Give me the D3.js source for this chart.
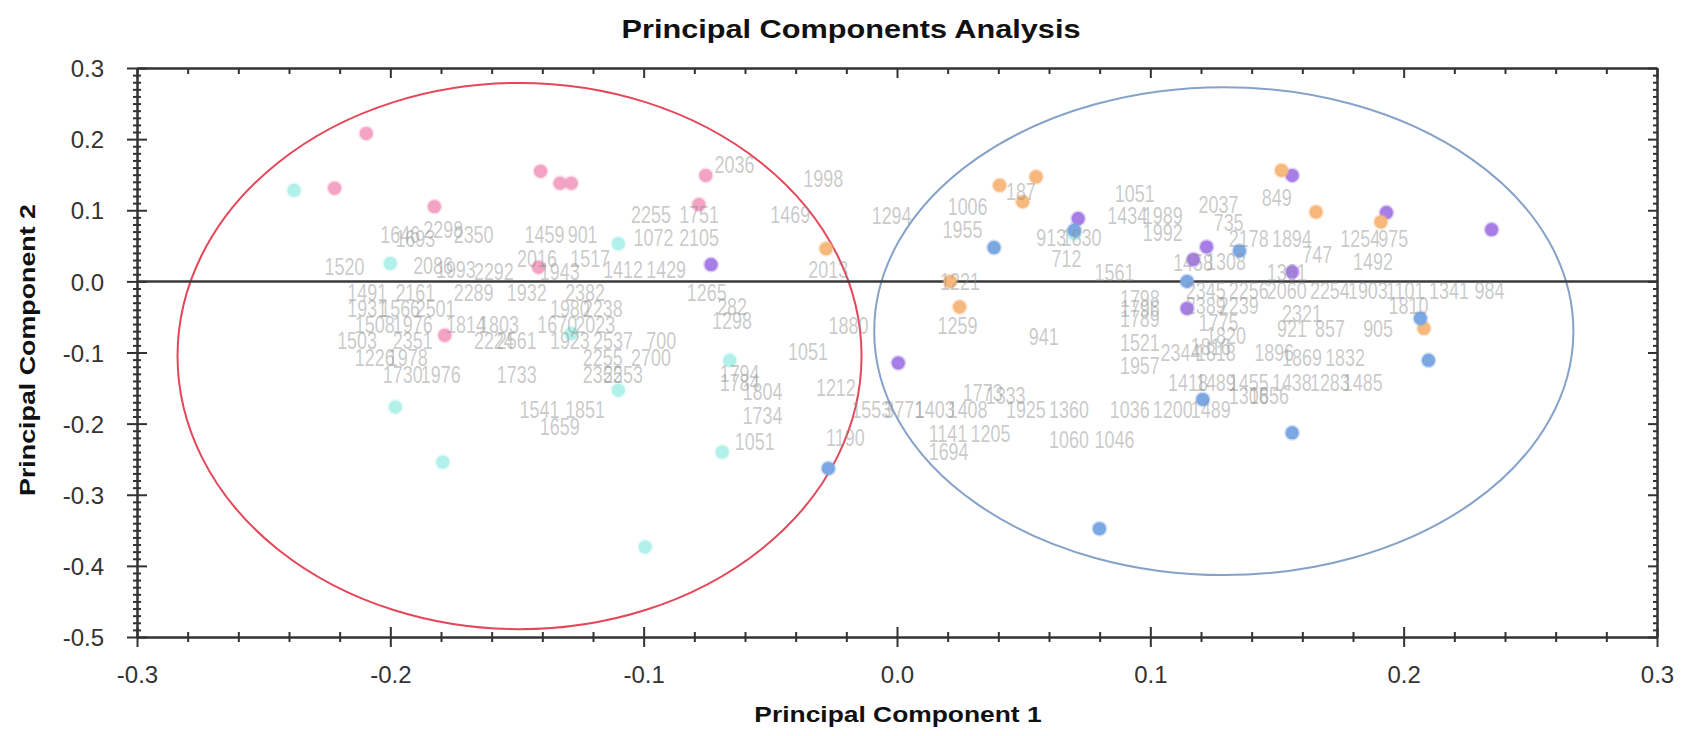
<!DOCTYPE html>
<html>
<head>
<meta charset="utf-8">
<script src="https://cdn.jsdelivr.net/npm/d3@7"></script>
<style>
  html, body { margin: 0; padding: 0; background: #fff; }
  svg { display: block; }
</style>
</head>
<body>
<svg id="chart" width="1687" height="736"></svg>
<script>
// ---------- DATA ----------
const xTickValues = [-0.3, -0.2, -0.1, 0.0, 0.1, 0.2, 0.3];
const xTickLabels = ["-0.3", "-0.2", "-0.1", "0.0", "0.1", "0.2", "0.3"];
const yTickValues = [-0.5, -0.4, -0.3, -0.2, -0.1, 0.0, 0.1, 0.2, 0.3];
const yTickLabels = ["-0.5", "-0.4", "-0.3", "-0.2", "-0.1", "0.0", "0.1", "0.2", "0.3"];

// coloured groups: [PC1, PC2]
const pinkPoints = [[-0.222,0.131],[-0.2095,0.208],[-0.1826,0.105],[-0.1407,0.155],[-0.133,0.138],[-0.1286,0.138],[-0.0755,0.149],[-0.0782,0.108],[-0.1415,0.02],[-0.1785,-0.0758]];
const cyanPoints = [[-0.238,0.128],[-0.2,0.025],[-0.110,0.053],[-0.1286,-0.0734],[-0.198,-0.1766],[-0.1793,-0.254],[-0.110,-0.153],[-0.066,-0.111],[-0.069,-0.24],[-0.0994,-0.3735],[0.070,0.067]];
const purplePoints = [[-0.0734,0.0236],[0.0005,-0.1148],[0.0715,0.0883],[0.156,0.149],[0.1932,0.0967],[0.2347,0.0728],[0.1222,0.0484],[0.117,0.0307],[0.156,0.0133],[0.1145,-0.038]];
const orangePoints = [[-0.028,0.046],[0.0405,0.135],[0.0549,0.147],[0.0496,0.112],[0.021,0.0],[0.0247,-0.036],[0.1518,0.156],[0.1654,0.0976],[0.191,0.0836],[0.208,-0.066]];
const bluePoints = [[0.0383,0.0475],[0.070,0.072],[0.1352,0.0428],[0.1145,0.0],[-0.0271,-0.263],[0.0799,-0.3477],[0.2066,-0.052],[0.2098,-0.111],[0.1207,-0.166],[0.156,-0.213]];

// sample labels: [text, PC1, PC2]
const sampleLabels = [
  ["2036",-0.072,0.164],["1998",-0.037,0.144],["1469",-0.050,0.094],["2255",-0.105,0.094],["1751",-0.086,0.094],
  ["1072",-0.104,0.061],["2105",-0.086,0.061],["1646",-0.204,0.066],["1693",-0.198,0.060],["2298",-0.187,0.072],
  ["2350",-0.175,0.066],["1459",-0.147,0.066],["901",-0.130,0.066],["2016",-0.150,0.032],["1517",-0.129,0.032],
  ["1520",-0.226,0.020],["2086",-0.191,0.022],["1993",-0.182,0.017],["2292",-0.167,0.014],["1943",-0.141,0.014],
  ["1412",-0.116,0.017],["1429",-0.099,0.017],["2013",-0.035,0.016],["1265",-0.083,-0.016],["282",-0.071,-0.036],
  ["1298",-0.073,-0.055],
  ["1491",-0.217,-0.016],["2161",-0.198,-0.016],["2289",-0.175,-0.016],["1932",-0.154,-0.016],["2382",-0.131,-0.016],
  ["1931",-0.217,-0.039],["1566",-0.204,-0.039],["2501",-0.190,-0.039],["1980",-0.137,-0.039],["2238",-0.124,-0.039],
  ["1508",-0.214,-0.061],["1976",-0.199,-0.061],["1814",-0.178,-0.061],["1803",-0.165,-0.061],["1670",-0.142,-0.061],["2023",-0.127,-0.061],
  ["1503",-0.221,-0.084],["2351",-0.199,-0.084],["2224",-0.167,-0.084],["2561",-0.158,-0.084],["1923",-0.137,-0.084],["2537",-0.120,-0.084],["700",-0.099,-0.084],
  ["1226",-0.214,-0.107],["1978",-0.201,-0.107],["2255",-0.124,-0.107],["2700",-0.105,-0.107],
  ["1730",-0.203,-0.131],["1976",-0.188,-0.131],["1733",-0.158,-0.131],["2355",-0.124,-0.131],["2253",-0.116,-0.131],
  ["1541",-0.149,-0.180],["1851",-0.131,-0.180],["1659",-0.141,-0.204],
  ["1880",-0.027,-0.062],["1051",-0.043,-0.099],["1794",-0.070,-0.130],["1784",-0.070,-0.142],["1804",-0.061,-0.155],
  ["1734",-0.061,-0.189],["1051",-0.064,-0.225],["1212",-0.032,-0.149],["1190",-0.028,-0.220],
  ["1294",-0.010,0.093],["1006",0.020,0.105],["187",0.043,0.126],["1955",0.018,0.072],["913",0.055,0.062],["1830",0.065,0.062],
  ["712",0.061,0.032],["1561",0.078,0.012],["1221",0.017,0.000],["1259",0.016,-0.062],["941",0.052,-0.078],["1521",0.088,-0.086],
  ["1798",0.088,-0.025],["1796",0.088,-0.039],["1789",0.088,-0.053],["2344",0.104,-0.100],["1957",0.088,-0.119],["1816",0.116,-0.092],
  ["1036",0.084,-0.180],["1200",0.101,-0.180],["1489",0.116,-0.180],["1306",0.131,-0.161],["1856",0.139,-0.161],
  ["1418",0.107,-0.142],["1489",0.118,-0.142],["1455",0.131,-0.142],["1438",0.148,-0.142],["1283",0.163,-0.142],["1485",0.176,-0.142],
  ["1553",-0.018,-0.181],["3771",-0.005,-0.181],["1403",0.007,-0.181],["1408",0.020,-0.181],["1925",0.043,-0.181],["1360",0.060,-0.181],
  ["1773",0.026,-0.157],["1333",0.035,-0.161],["1141",0.0125,-0.214],["1205",0.029,-0.214],["1694",0.0125,-0.240],
  ["1060",0.060,-0.222],["1046",0.078,-0.222],
  ["1051",0.086,0.123],["1434",0.083,0.093],["1989",0.097,0.093],["2037",0.119,0.108],["735",0.125,0.082],["849",0.144,0.118],
  ["1992",0.097,0.069],["2178",0.131,0.060],["1894",0.148,0.060],["1254",0.175,0.060],["975",0.190,0.060],["1492",0.180,0.028],
  ["747",0.160,0.038],["1458",0.109,0.026],["1308",0.122,0.027],["1361",0.146,0.012],
  ["2345",0.114,-0.013],["2256",0.131,-0.013],["2060",0.146,-0.013],["2254",0.163,-0.013],["1903",0.178,-0.013],
  ["1101",0.193,-0.013],["1341",0.210,-0.013],["984",0.228,-0.013],
  ["2389",0.114,-0.034],["2239",0.127,-0.034],["1810",0.194,-0.034],["2321",0.152,-0.045],
  ["921",0.150,-0.066],["857",0.165,-0.066],["905",0.184,-0.066],["1775",0.119,-0.058],["1820",0.122,-0.077],
  ["1818",0.118,-0.100],["1896",0.141,-0.100],["1869",0.152,-0.107],["1832",0.169,-0.107]
];

// ellipses: [cx, cy, rx, ry]
const redEllipse = [-0.149, -0.105, 0.135, 0.384];
const blueEllipse = [0.129, -0.070, 0.138, 0.343];

// ---------- LAYOUT ----------
const L = 137, R = 1657, T = 68, B = 637;
const svg = d3.select("#chart");
const x = d3.scaleLinear().domain([-0.3, 0.3]).range([L, R]);
const y = d3.scaleLinear().domain([-0.5, 0.3]).range([B, T]);
const axisColor = "#333";
const font = "Liberation Sans, Arial, sans-serif";

// ellipses
function drawEllipse(e, color) {
  svg.append("ellipse")
    .attr("cx", x(e[0])).attr("cy", y(e[1]))
    .attr("rx", x(e[0] + e[2]) - x(e[0]))
    .attr("ry", y(e[1]) - y(e[1] + e[3]))
    .attr("fill", "none").attr("stroke", color).attr("stroke-width", 2);
}
drawEllipse(redEllipse, "#e4475a");
drawEllipse(blueEllipse, "#86a2c8");

// zero line
svg.append("line")
  .attr("x1", x(-0.3)).attr("x2", x(0.3))
  .attr("y1", y(0)).attr("y2", y(0))
  .attr("stroke", "#3a3a3a").attr("stroke-width", 2.5);

// points
const groups = [
  [pinkPoints, "#f3a3c3"],
  [cyanPoints, "#b2f1ea"],
  [purplePoints, "#a77de6"],
  [orangePoints, "#f6b87c"],
  [bluePoints, "#7ba7e2"]
];
groups.forEach(([pts, col]) => {
  svg.append("g").selectAll("circle").data(pts).join("circle")
    .attr("cx", d => x(d[0])).attr("cy", d => y(d[1]))
    .attr("r", 6.5).attr("fill", col)
    .attr("stroke", col).attr("stroke-opacity", 0.35).attr("stroke-width", 3);
});

// labels
svg.append("g").selectAll("text").data(sampleLabels).join("text")
  .attr("transform", d => `translate(${x(d[1])},${y(d[2])}) scale(0.78,1)`)
  .attr("dy", "0.36em")
  .attr("font-family", font)
  .attr("font-size", 23)
  .attr("fill", "#8f8f8f")
  .attr("fill-opacity", 0.48)
  .text(d => d[0]);

// ---------- AXES ----------
function styleAxis(g) {
  g.selectAll(".domain").attr("stroke", axisColor).attr("stroke-width", 2);
  g.selectAll(".tick line").attr("stroke", axisColor).attr("stroke-width", 2);
  g.selectAll("text").attr("fill", "#333").attr("font-family", font).attr("font-size", 24);
}
const xMinor = d3.range(-0.3, 0.3001, 0.02).filter(v => Math.abs(Math.round(v * 10) - v * 10) > 1e-6);
const yMinor = d3.range(-0.5, 0.3001, 0.01).filter(v => Math.abs(Math.round(v * 10) - v * 10) > 1e-6);

// bottom
const gxMinor = svg.append("g").attr("transform", `translate(0,${B})`)
  .call(d3.axisBottom(x).tickValues(xMinor).tickFormat("").tickSize(5).tickSizeOuter(0));
gxMinor.selectAll(".tick line").attr("y1", -5);
styleAxis(gxMinor);
const gx = svg.append("g").attr("transform", `translate(0,${B})`)
  .call(d3.axisBottom(x).tickValues(xTickValues).tickFormat((d, i) => xTickLabels[i]).tickSize(10).tickSizeOuter(0));
gx.selectAll(".tick line").attr("y1", -10);
styleAxis(gx);
gx.selectAll("text").attr("y", 29).attr("dy", "0.71em");

// left
const gyMinor = svg.append("g").attr("transform", `translate(${L},0)`)
  .call(d3.axisLeft(y).tickValues(yMinor).tickFormat("").tickSize(4).tickSizeOuter(0));
gyMinor.selectAll(".tick line").attr("x1", 4);
styleAxis(gyMinor);
const gy = svg.append("g").attr("transform", `translate(${L},0)`)
  .call(d3.axisLeft(y).tickValues(yTickValues).tickFormat((d, i) => yTickLabels[i]).tickSize(10).tickSizeOuter(0));
gy.selectAll(".tick line").attr("x1", 10);
styleAxis(gy);
gy.selectAll("text").attr("x", -33).attr("dy", "0.36em");

// top (inside ticks)
const gtMinor = svg.append("g").attr("transform", `translate(0,${T})`)
  .call(d3.axisTop(x).tickValues(xMinor).tickFormat("").tickSize(-6).tickSizeOuter(0));
styleAxis(gtMinor);
const gt = svg.append("g").attr("transform", `translate(0,${T})`)
  .call(d3.axisTop(x).tickValues(xTickValues).tickFormat("").tickSize(-10).tickSizeOuter(0));
styleAxis(gt);

// right (inside ticks)
const grMinor = svg.append("g").attr("transform", `translate(${R},0)`)
  .call(d3.axisRight(y).tickValues(yMinor).tickFormat("").tickSize(-4).tickSizeOuter(0));
styleAxis(grMinor);
const gr = svg.append("g").attr("transform", `translate(${R},0)`)
  .call(d3.axisRight(y).tickValues(yTickValues).tickFormat("").tickSize(-9).tickSizeOuter(0));
styleAxis(gr);

// ---------- TITLES ----------
svg.append("text")
  .attr("transform", "translate(851,38) scale(1.18,1)").attr("text-anchor", "middle")
  .attr("font-family", font).attr("font-weight", "bold")
  .attr("font-size", 26).attr("fill", "#111")
  .text("Principal Components Analysis");

svg.append("text")
  .attr("transform", "translate(898,722) scale(1.2,1)").attr("text-anchor", "middle")
  .attr("font-family", font).attr("font-weight", "bold")
  .attr("font-size", 22).attr("fill", "#111")
  .text("Principal Component 1");

svg.append("text")
  .attr("transform", "translate(35,350) rotate(-90) scale(1.22,1)").attr("text-anchor", "middle")
  .attr("font-family", font).attr("font-weight", "bold")
  .attr("font-size", 22).attr("fill", "#111")
  .text("Principal Component 2");
</script>
</body>
</html>
